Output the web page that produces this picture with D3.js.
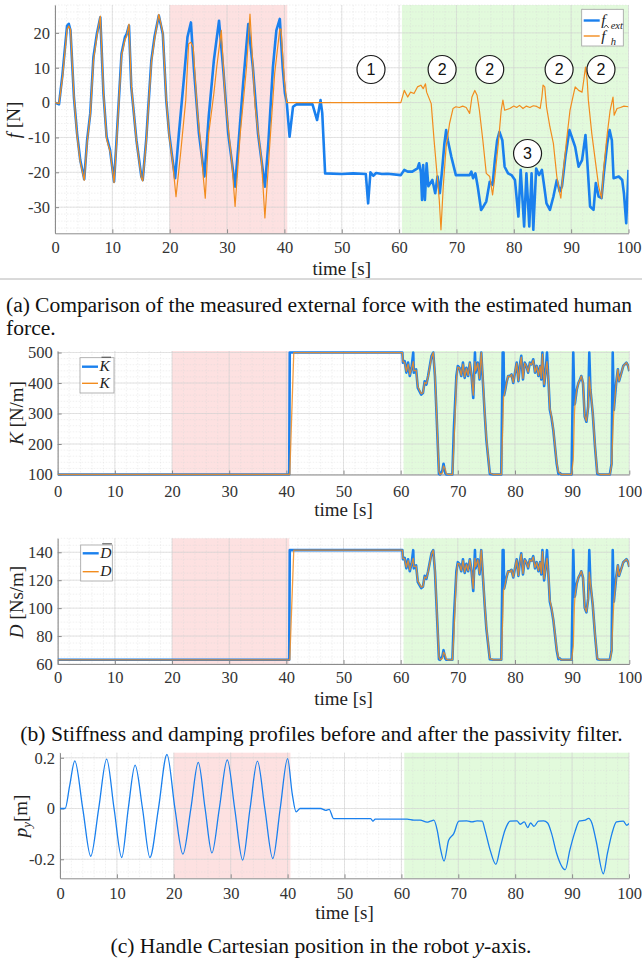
<!DOCTYPE html>
<html>
<head>
<meta charset="utf-8">
<script src="https://cdn.jsdelivr.net/npm/d3@7"></script>
<style>
body { margin: 0; background: #fff; }
svg { display: block; font-family: "Liberation Serif", "Times New Roman", serif; }
</style>
</head>
<body>
<svg id="fig" width="642" height="964"></svg>
<script>
// ---- data ----
var timeTicks = [0, 10, 20, 30, 40, 50, 60, 70, 80, 90, 100];
var redZone = [20, 40.5];
var greenZone = [60.5, 100];

// (a) measured external force f_ext  [t, N]
var fExt = [[0,0],[0.7,-0.5],[1.3,8],[2.1,22],[2.4,22.6],[2.7,20.7],[3.3,1.6],[3.85,-8.9],[4.4,-16.5],[5.1,-22],
  [5.6,-10.8],[6.15,-3.1],[6.7,13],[7.3,19.7],[7.9,24.5],[8.45,2.6],[9.0,-9.8],[9.6,-13.6],[10.3,-22.7],
  [10.7,-11.7],[11.6,14],[12.2,18.8],[12.5,19.7],[12.9,22.1],[13.3,4.5],[14.2,-10.8],[15.05,-21.2],[15.3,-22.2],
  [15.9,-10.8],[16.8,12.1],[17.35,18.8],[18.1,25],[18.8,19.7],[19.4,0.7],[19.9,-8.9],[20.5,-16.5],[20.95,-21.7],
  [21.6,-8.9],[22.5,7.3],[23.1,18.8],[23.7,23],[24.2,10.2],[25.1,-8.9],[26.05,-21.2],
  [26.8,-4.1],[27.7,12.1],[28.6,23.5],[29.4,8.3],[30.2,-8.9],[31.4,-24.1],
  [32.0,-11.7],[32.8,5.4],[33.7,22.5],[34.5,10.2],[35.4,-8.9],[36.6,-24.1],
  [37.2,-11.7],[38.0,10.2],[38.6,20.7],[39.2,24],[39.7,10.2],[40.1,2.6],[40.4,0.2],
  [40.9,-9.8],[41.5,-1.2],[42.1,-0.5],[44.9,-0.5],[45.7,-5],[46.0,-2.2],[46.3,0.7],[46.6,-3],[47.1,-20.3],
  [50,-20.5],[52,-20.3],[54.2,-20.5],[54.6,-28.9],[55,-20],[55.5,-21],[56,-20.2],[57,-20.5],[58,-20.4],[60.3,-20.8],
  [60.9,-19.3],[61.5,-19.8],[62.3,-19.8],[63.2,-18.9],[63.5,-17.4],[63.8,-20],[64.0,-27.9],[64.2,-17.9],[64.5,-27.9],
  [64.8,-17.4],[65.1,-24],[65.8,-22.2],[66.3,-26],[66.7,-21.2],[67.1,-26],[67.5,-19.3],[67.9,-11.7],[68.2,-7.9],
  [68.5,-10.8],[69.1,-15.5],[69.9,-20.8],[71.1,-20.8],[72.3,-20.8],[72.6,-19.8],[72.9,-21.7],[73.3,-20.3],[73.7,-24],
  [74.3,-30.8],[74.7,-29.8],[75.2,-28.4],[75.8,-22.7],[76.3,-23.6],[76.7,-16.5],[77.1,-10.8],[77.5,-8.4],[78.0,-10.8],
  [78.4,-18.4],[79.0,-20.3],[79.6,-20.8],[80.2,-22.2],[80.8,-32.7],[81.2,-19.3],[81.8,-35.5],[82.2,-20.3],[82.7,-35.5],
  [83.1,-20.3],[83.4,-36.5],[83.9,-18.9],[84.4,-20.8],[84.9,-19.3],[85.3,-24],[85.7,-28.9],[86.3,-30.8],[86.9,-27],
  [87.5,-22.2],[88.0,-25.5],[88.4,-24],[89.0,-15.5],[89.7,-7.9],[90.1,-9.8],[90.7,-12.7],[91.3,-18.4],[91.9,-16.5],
  [92.5,-9.3],[92.8,-16.5],[93.3,-29.8],[93.9,-30.8],[94.3,-23.1],[94.8,-27],[95.3,-27.4],[95.7,-20.3],[96.3,-11.7],
  [96.7,-7.9],[97.1,-10.8],[97.4,-21.7],[98.3,-21.2],[98.9,-22.2],[99.2,-26],[99.6,-34.6],[100,-19.3]];

// (a) estimated human force f_h  [t, N]
var fHum = [[0,0],[0.7,-0.3],[1.3,7],[2.1,21],[2.4,22],[2.7,21],[3.3,2],[3.85,-9.5],[4.4,-17],[5.1,-22.3],
  [5.6,-11.5],[6.15,-3.5],[6.7,12],[7.3,19],[7.9,24.8],[8.45,3],[9.0,-10.5],[9.6,-14],[10.3,-23],[10.7,-12.5],
  [11.6,13.5],[12.2,18],[12.5,19],[12.9,22.5],[13.3,5],[14.2,-11],[15.05,-21.5],[15.3,-22.5],[15.9,-11.5],[16.8,11.5],
  [17.35,18],[18.1,25.3],[18.8,20],[19.4,1],[19.9,-9.5],[20.5,-17],
  [21.1,-27],[21.9,-14.6],[22.8,0.7],[23.3,16.9],[23.7,17.3],[24.1,15.9],[24.8,-2.2],[25.4,-11.7],[25.9,-22.2],
  [26.2,-27.4],[26.8,-8.9],[27.7,2.6],[28.2,10.2],[29.0,20.7],[29.7,0.7],[30.8,-16.5],[31.4,-29.8],[32.3,-8.9],
  [33.4,10.2],[34.0,25.4],[34.9,-1.2],[36.0,-16.5],[36.6,-33.1],[37.5,-10.8],[38.3,8.3],[39.2,21.1],[39.4,21.1],
  [40.0,6.4],[40.4,0],[60.3,0],
  [60.9,3.5],[61.5,1.6],[62.0,3],[62.6,2.6],[63.2,4.5],[63.8,5],[64.2,4],[64.6,5.4],[64.8,3],[65.6,-0.3],[66.1,-10.8],
  [66.7,-22.2],[67.0,-27.9],[67.3,-36.5],[67.7,-24],[68.2,-12.7],[68.8,-6],[69.4,-1.7],[69.9,-1.2],[70.5,-1.4],
  [71.1,-1],[71.7,-1.4],[72.3,-3.1],[72.7,1.6],[73.2,3.5],[73.6,2.1],[74.0,-2.2],[74.6,-10.8],[75.2,-20.3],[75.8,-21.2],
  [76.3,-26.5],[76.7,-21.2],[77.3,-11.7],[77.8,-2.2],[78.1,0.7],[78.4,-2.2],[79.3,-1.7],[80.0,-1.0],[80.5,-1.4],
  [81.0,-0.8],[81.6,-1.7],[82.2,-1.0],[82.8,-1.4],[83.4,-0.9],[84.0,-1.1],[84.6,-1.7],[84.9,1.6],[85.1,5],[85.4,4.5],
  [85.7,-1.2],[86.3,-7],[86.9,-11.7],[87.5,-21.2],[88.0,-26],[88.2,-27.4],[88.7,-18.4],[89.2,-10.8],[89.8,-2.2],
  [90.3,1.6],[90.7,4.5],[91.3,3.5],[91.9,3],[92.2,6.4],[92.5,10.2],[92.8,6.4],[93.0,0.7],[93.6,-8.9],[94.2,-16.5],
  [94.8,-24.1],[95.3,-27.4],[95.7,-18.4],[96.3,-8.9],[96.8,-2.2],[97.3,1.6],[97.5,-3.6],[98.0,-1.7],[98.6,-1.4],
  [99.2,-1.0],[100,-1.2]];

// (b) stiffness / damping, shared time base
var kdTime = [0,40.5,40.6,41.3,60.3,60.4,60.7,61.0,61.3,61.6,61.9,62.2,62.3,62.7,63.0,63.6,63.9,64.2,64.5,64.8,
  65.4,65.7,66.0,66.2,66.7,66.9,67.3,67.5,67.8,68.0,68.3,69.05,69.3,69.75,70.0,70.3,70.6,70.9,71.2,71.5,71.8,72.1,
  72.4,72.7,73.0,73.1,73.5,73.8,74.1,74.4,74.7,75.0,75.6,76.2,77.6,77.85,78.0,78.1,78.3,78.5,78.8,79.1,79.4,79.7,
  80.0,80.3,80.6,80.85,81.1,81.4,81.7,82.0,82.3,82.6,82.9,83.2,83.5,83.8,84.1,84.4,84.6,84.8,85.1,85.4,85.6,85.9,
  86.1,86.4,86.7,87.3,87.6,87.85,88.1,89.9,90.2,90.4,90.5,90.8,91.1,91.4,91.6,91.9,92.2,92.5,92.8,93.0,93.2,93.6,
  94.0,94.4,94.9,96.6,96.9,97.1,97.3,97.7,98.0,98.2,98.7,98.95,99.5,99.8,100];
var kBar = [100,100,500,500,500,467,472,434,467,423,450,500,434,445,384,362,367,406,395,423,
  489,500,423,334,102,100,113,135,105,100,100,100,245,423,456,450,423,467,417,450,423,467,
  423,351,500,434,467,412,500,400,301,213,102,100,100,500,500,360,378,400,423,423,428,400,
  434,467,406,456,489,412,467,456,434,467,461,478,434,456,423,456,412,500,390,445,500,390,
  312,285,246,135,102,105,100,100,500,330,334,378,400,412,423,400,290,273,323,500,378,301,
  191,102,100,100,135,500,312,400,445,406,439,456,467,456,439];
var kVal = [100,100,100,500,500,470,468,438,462,428,448,470,440,442,388,365,368,402,398,420,
  485,500,430,340,110,100,105,128,118,102,100,100,190,410,452,450,425,462,420,448,425,465,
  425,360,470,440,465,415,500,410,305,220,105,100,100,250,356,360,378,400,423,420,428,402,
  434,465,408,455,485,415,465,455,436,465,460,475,436,455,425,455,415,495,395,445,470,395,
  318,290,250,140,108,104,100,100,150,300,334,378,400,412,423,400,292,275,320,420,380,305,
  195,105,100,100,130,230,312,400,445,406,439,456,467,456,439];
var dBar = [63,63,141.5,141.5,141.5,135.0,136.0,128.5,135.0,126.4,131.7,141.5,128.5,130.7,118.7,114.4,115.4,123.1,120.9,126.4,
  139.3,141.5,126.4,108.9,63.4,63,65.6,69.9,64.0,63,63,63,91.5,126.4,132.9,131.7,126.4,135.0,125.2,131.7,126.4,135.0,
  126.4,112.3,141.5,128.5,135.0,124.2,141.5,121.9,102.4,85.2,63.4,63,63,141.5,141.5,114.0,117.6,121.9,126.4,126.4,127.4,121.9,
  128.5,135.0,123.1,132.9,139.3,124.2,135.0,132.9,128.5,135.0,133.8,137.2,128.5,132.9,126.4,132.9,124.2,141.5,119.9,130.7,141.5,119.9,
  104.6,99.3,91.7,69.9,63.4,64.0,63,63,141.5,108.1,108.9,117.6,121.9,124.2,126.4,121.9,100.3,97.0,106.8,141.5,117.6,102.4,
  80.9,63.4,63,63,69.9,141.5,104.6,121.9,130.7,123.1,129.5,132.9,135.0,132.9,129.5];
var dVal = [63,63,63,141.5,141.5,135.6,135.2,129.3,134.0,127.4,131.3,135.6,129.7,130.1,119.5,115.0,115.6,122.3,121.5,125.8,
  138.6,141.5,127.8,110.1,65.0,63,64.0,68.5,66.5,63.4,63,63,80.7,123.8,132.1,131.7,126.8,134.0,125.8,131.3,126.8,134.6,
  126.8,114.0,135.6,129.7,134.6,124.8,141.5,123.8,103.2,86.6,64.0,63,63,92.4,113.2,114.0,117.6,121.9,126.4,125.8,127.4,122.3,
  128.5,134.6,123.4,132.7,138.6,124.8,134.6,132.7,129.0,134.6,133.6,136.6,129.0,132.7,126.8,132.7,124.8,140.5,120.9,130.7,135.6,120.9,
  105.8,100.3,92.4,70.9,64.6,63.8,63,63,72.8,102.3,108.9,117.6,121.9,124.2,126.4,121.9,100.7,97.3,106.2,125.8,118.0,103.2,
  81.6,64.0,63,63,68.9,88.5,104.6,121.9,130.7,123.1,129.5,132.9,135.0,132.9,129.5];

// (c) handle position p_y  [t, m]
var pY = [[0,0],[0.9,0],[1.7,0.09],[2.6,0.188],[4.0,0],[5.4,-0.188],[6.8,0],[8.2,0.195],[9.5,0],[10.85,-0.193],
  [12.0,0],[13.2,0.171],[14.5,0],[15.8,-0.193],[17.3,0],[18.8,0.213],[20.2,0],[21.6,-0.18],[23.0,0],[24.3,0.182],
  [25.5,0],[26.7,-0.175],[28.0,0],[29.4,0.192],[30.7,0],[32.1,-0.203],[33.4,0],[34.7,0.187],[36.0,0],[37.4,-0.197],
  [38.7,0],[40.0,0.197],[40.8,0.06],[41.5,-0.013],[42.2,0],[45.8,0],[46.7,-0.007],[47.3,-0.003],[48.1,-0.04],
  [54.6,-0.04],[55.0,-0.05],[55.4,-0.042],[61,-0.042],[62.2,-0.046],[63.3,-0.046],[64.5,-0.054],[65.1,-0.05],
  [65.7,-0.046],[66.3,-0.086],[66.8,-0.151],[67.5,-0.207],[68.3,-0.125],[69.2,-0.099],[70.1,-0.05],[71.5,-0.049],
  [72.4,-0.053],[73.3,-0.049],[74.2,-0.05],[74.7,-0.086],[75.6,-0.164],[76.6,-0.22],[77.4,-0.151],[78.2,-0.086],
  [79.1,-0.05],[80.3,-0.049],[80.9,-0.062],[81.6,-0.053],[82.2,-0.075],[82.7,-0.057],[83.3,-0.07],[84.1,-0.05],
  [85.0,-0.049],[85.7,-0.057],[86.4,-0.099],[87.3,-0.178],[88.8,-0.241],[89.6,-0.164],[90.5,-0.092],[91.3,-0.049],
  [92.3,-0.046],[92.9,-0.039],[93.5,-0.059],[94.2,-0.125],[95.5,-0.257],[96.2,-0.178],[97.0,-0.099],[97.8,-0.053],
  [99.0,-0.05],[99.6,-0.066],[100,-0.059]];

// numbered markers in (a)
var markT = [55.1, 67.5, 75.8, 87.9, 95.2, 82.4];
var markF = [9.5, 9.5, 9.5, 9.5, 9.5, -14.6];
var markLabel = ["1", "2", "2", "2", "2", "3"];

var capA1 = "(a) Comparison of the measured external force with the estimated human";
var capA2 = "force.";
var capB = "(b) Stiffness and damping profiles before and after the passivity filter.";

// ---- drawing ----
var svg = d3.select("#fig"),
    blue = "#1a80ee",
    orange = "#f28c1e",
    axisCol = "#8c8c8c",
    capSize = "21.6px";

function zip(t, v) {
  return t.map(function(d, i) { return [d, v[i]]; });
}

function panel(o) {
  var x = d3.scaleLinear().domain([0, 100]).range([o.left, o.right]);
  var y = d3.scaleLinear().domain(o.yDomain).range([o.bottom, o.top]);
  var g = svg.append("g");
  var h = o.bottom - o.top;

  g.append("rect").attr("x", x(redZone[0])).attr("width", x(redZone[1]) - x(redZone[0]))
    .attr("y", o.top).attr("height", h).attr("fill", "#fde1e1");
  g.append("rect").attr("x", x(greenZone[0])).attr("width", x(greenZone[1]) - x(greenZone[0]))
    .attr("y", o.top).attr("height", h).attr("fill", "#e2fadc");

  // minor grid
  var xMinor = d3.range(0, 100.01, 2);
  var yMinor = d3.range(Math.ceil(o.yDomain[0] / o.yMinor) * o.yMinor, o.yDomain[1] + 1e-9, o.yMinor);
  g.append("g").selectAll("line").data(xMinor).enter().append("line")
    .attr("x1", x).attr("x2", x).attr("y1", o.top).attr("y2", o.bottom)
    .attr("stroke", "#d8d8d8").attr("stroke-opacity", 0.6).attr("stroke-width", 0.6).attr("stroke-dasharray", "1.5,1.5");
  g.append("g").selectAll("line").data(yMinor).enter().append("line")
    .attr("y1", y).attr("y2", y).attr("x1", o.left).attr("x2", o.right)
    .attr("stroke", "#d8d8d8").attr("stroke-opacity", 0.6).attr("stroke-width", 0.6).attr("stroke-dasharray", "1.5,1.5");
  // major grid
  g.append("g").selectAll("line").data(timeTicks).enter().append("line")
    .attr("x1", x).attr("x2", x).attr("y1", o.top).attr("y2", o.bottom)
    .attr("stroke", "#cfcfcf").attr("stroke-opacity", 0.7).attr("stroke-width", 0.8);
  g.append("g").selectAll("line").data(o.yTicks).enter().append("line")
    .attr("y1", y).attr("y2", y).attr("x1", o.left).attr("x2", o.right)
    .attr("stroke", "#cfcfcf").attr("stroke-opacity", 0.7).attr("stroke-width", 0.8);

  var xAxis = g.append("g").attr("transform", "translate(0," + o.bottom + ")")
    .call(d3.axisBottom(x).tickValues(timeTicks).tickSizeInner(-4).tickSizeOuter(0).tickPadding(o.xPad));
  var yAxis = g.append("g").attr("transform", "translate(" + o.left + ",0)")
    .call(d3.axisLeft(y).tickValues(o.yTicks).tickSizeInner(-4).tickSizeOuter(0).tickPadding(5)
      .tickFormat(function(d) { return String(d); }));
  [xAxis, yAxis].forEach(function(a) {
    a.attr("font-family", null).attr("font-size", null);
    a.select(".domain").attr("stroke", axisCol);
    a.selectAll(".tick line").attr("stroke", axisCol);
    a.selectAll(".tick text").attr("fill", "#333").attr("font-size", "16.5px");
  });

  g.append("text").attr("x", (o.left + o.right) / 2).attr("y", o.timeY).attr("dy", "0.32em")
    .attr("text-anchor", "middle").attr("font-size", "19px").attr("fill", "#222").text("time [s]");

  var lab = g.append("text").attr("transform", "translate(" + o.labX + "," + o.labY + ") rotate(-90)")
    .attr("text-anchor", "middle").attr("dy", "0.35em").attr("font-size", "19px").attr("fill", "#222");
  lab.append("tspan").attr("font-style", "italic").text(o.labSym);
  if (o.labSub) lab.append("tspan").attr("font-style", "italic").attr("font-size", "13px").attr("dy", "4").text(o.labSub);
  lab.append("tspan").attr("dy", o.labSub ? "-4" : null).text(o.labUnit);

  var clipId = "clip" + Math.round(o.top);
  svg.append("clipPath").attr("id", clipId).append("rect")
    .attr("x", o.left).attr("y", o.top - 2).attr("width", o.right - o.left).attr("height", h + 4);
  var plot = g.append("g").attr("clip-path", "url(#" + clipId + ")");

  return { x: x, y: y, g: g, plot: plot };
}

function drawLine(p, pts, color, width, curve, opacity) {
  var line = d3.line()
    .x(function(d) { return p.x(d[0]); })
    .y(function(d) { return p.y(d[1]); })
    .curve(curve || d3.curveLinear);
  p.plot.append("path").datum(pts)
    .attr("d", line).attr("fill", "none").attr("stroke", color)
    .attr("stroke-width", width).attr("stroke-linejoin", "round")
    .attr("stroke-opacity", opacity || 1);
}

function legend(p, x0, y0, w, hgt, rows) {
  var lg = p.g.append("g");
  lg.append("rect").attr("x", x0).attr("y", y0).attr("width", w).attr("height", hgt)
    .attr("fill", "#fff").attr("stroke", "#a0a0a0").attr("stroke-width", 0.8);
  rows.forEach(function(r) {
    lg.append("line").attr("x1", x0 + 2).attr("x2", x0 + 18).attr("y1", r.y).attr("y2", r.y)
      .attr("stroke", r.color).attr("stroke-width", r.width);
    var sym = lg.append("text").attr("x", x0 + 19.5).attr("y", r.y).attr("dy", "0.3em")
      .attr("font-size", "15.5px").attr("font-style", "italic").attr("fill", "#222").text(r.sym);
    var b = sym.node().getBBox();
    var top = r.y - 6.5;
    if (r.mark === "bar") {
      lg.append("line").attr("x1", b.x + 3).attr("x2", b.x + b.width + 0.5).attr("y1", top - 3).attr("y2", top - 3)
        .attr("stroke", "#222").attr("stroke-width", 0.8);
    }
    if (r.mark === "hat") {
      var cx = b.x + b.width / 2 + 1.5;
      lg.append("path").attr("d", "M" + (cx - 2.5) + "," + (top - 1.5) + "L" + cx + "," + (top - 4.5) + "L" + (cx + 2.5) + "," + (top - 1.5))
        .attr("fill", "none").attr("stroke", "#222").attr("stroke-width", 0.8);
    }
    if (r.sub) {
      lg.append("text").attr("x", b.x + b.width + 2.5).attr("y", r.y + 8.5)
        .attr("font-size", "10.5px").attr("font-style", "italic").attr("fill", "#222").text(r.sub);
    }
  });
}

// (a) force
var p1 = panel({ left: 55, right: 628.5, top: 5, bottom: 233.3, yDomain: [-37.5, 28],
  yTicks: [-30, -20, -10, 0, 10, 20], yMinor: 2, xPad: 8, timeY: 268.5,
  labX: 13, labY: 120, labSym: "f", labUnit: " [N]" });
drawLine(p1, fExt, blue, 2.6);
drawLine(p1, fHum, orange, 1.2);
legend(p1, 581.7, 9.3, 41.6, 36.7, [
  { y: 20.5, color: blue, width: 2.4, sym: "f", sub: "ext" },
  { y: 36, color: orange, width: 1.4, sym: "f", sub: "h", mark: "hat" }
]);
var marks = p1.g.append("g").selectAll("g").data(markT).enter().append("g")
  .attr("transform", function(d, i) { return "translate(" + p1.x(d) + "," + p1.y(markF[i]) + ")"; });
marks.append("circle").attr("r", 14).attr("fill", "#fff").attr("stroke", "#1a1a1a").attr("stroke-width", 1.2);
marks.append("text").attr("text-anchor", "middle").attr("dy", "0.36em")
  .attr("font-family", "Liberation Sans, Arial, sans-serif").attr("font-size", "16px").attr("fill", "#111")
  .text(function(d, i) { return markLabel[i]; });

svg.append("line").attr("x1", 0).attr("x2", 642).attr("y1", 279).attr("y2", 279)
  .attr("stroke", "#b4b4b4").attr("stroke-width", 1);
svg.append("text").attr("x", 6).attr("y", 311.5).attr("font-size", capSize).attr("fill", "#111")
  .attr("textLength", 626).attr("lengthAdjust", "spacing").text(capA1);
svg.append("text").attr("x", 6).attr("y", 335).attr("font-size", capSize).attr("fill", "#111").text(capA2);

// (b) stiffness
var p2 = panel({ left: 57.7, right: 629.3, top: 351, bottom: 474.5, yDomain: [100, 505],
  yTicks: [100, 200, 300, 400, 500], yMinor: 20, xPad: 10.5, timeY: 510,
  labX: 16, labY: 413, labSym: "K", labUnit: " [N/m]" });
drawLine(p2, zip(kdTime, kBar), blue, 2.6);
drawLine(p2, zip(kdTime, kVal), orange, 1.3, null, 0.85);
legend(p2, 80, 357.7, 34, 35.3, [
  { y: 366.7, color: blue, width: 2.4, sym: "K", mark: "bar" },
  { y: 383.3, color: orange, width: 1.4, sym: "K" }
]);

// (b) damping
var p3 = panel({ left: 57.7, right: 629.3, top: 538.3, bottom: 664, yDomain: [60, 150],
  yTicks: [60, 80, 100, 120, 140], yMinor: 5, xPad: 7.5, timeY: 699,
  labX: 16, labY: 602, labSym: "D", labUnit: " [Ns/m]" });
drawLine(p3, zip(kdTime, dBar), blue, 2.6);
drawLine(p3, zip(kdTime, dVal), orange, 1.3, null, 0.85);
legend(p3, 80.7, 545, 31.6, 36, [
  { y: 553.3, color: blue, width: 2.4, sym: "D", mark: "bar" },
  { y: 571.7, color: orange, width: 1.4, sym: "D" }
]);
svg.append("text").attr("x", 321.5).attr("y", 741).attr("text-anchor", "middle")
  .attr("font-size", capSize).attr("fill", "#111").text(capB);

// (c) position
var p4 = panel({ left: 60, right: 629, top: 752.7, bottom: 878.3, yDomain: [-0.275, 0.22],
  yTicks: [-0.2, 0, 0.2], yMinor: 0.05, xPad: 8.5, timeY: 913,
  labX: 20, labY: 816, labSym: "p", labSub: "y", labUnit: "[m]" });
drawLine(p4, pY, blue, 1.3, d3.curveMonotoneX);

var capC = svg.append("text").attr("x", 321).attr("y", 953).attr("text-anchor", "middle")
  .attr("font-size", capSize).attr("fill", "#111");
capC.append("tspan").text("(c) Handle Cartesian position in the robot ");
capC.append("tspan").attr("font-style", "italic").text("y");
capC.append("tspan").text("-axis.");
</script>
</body>
</html>
